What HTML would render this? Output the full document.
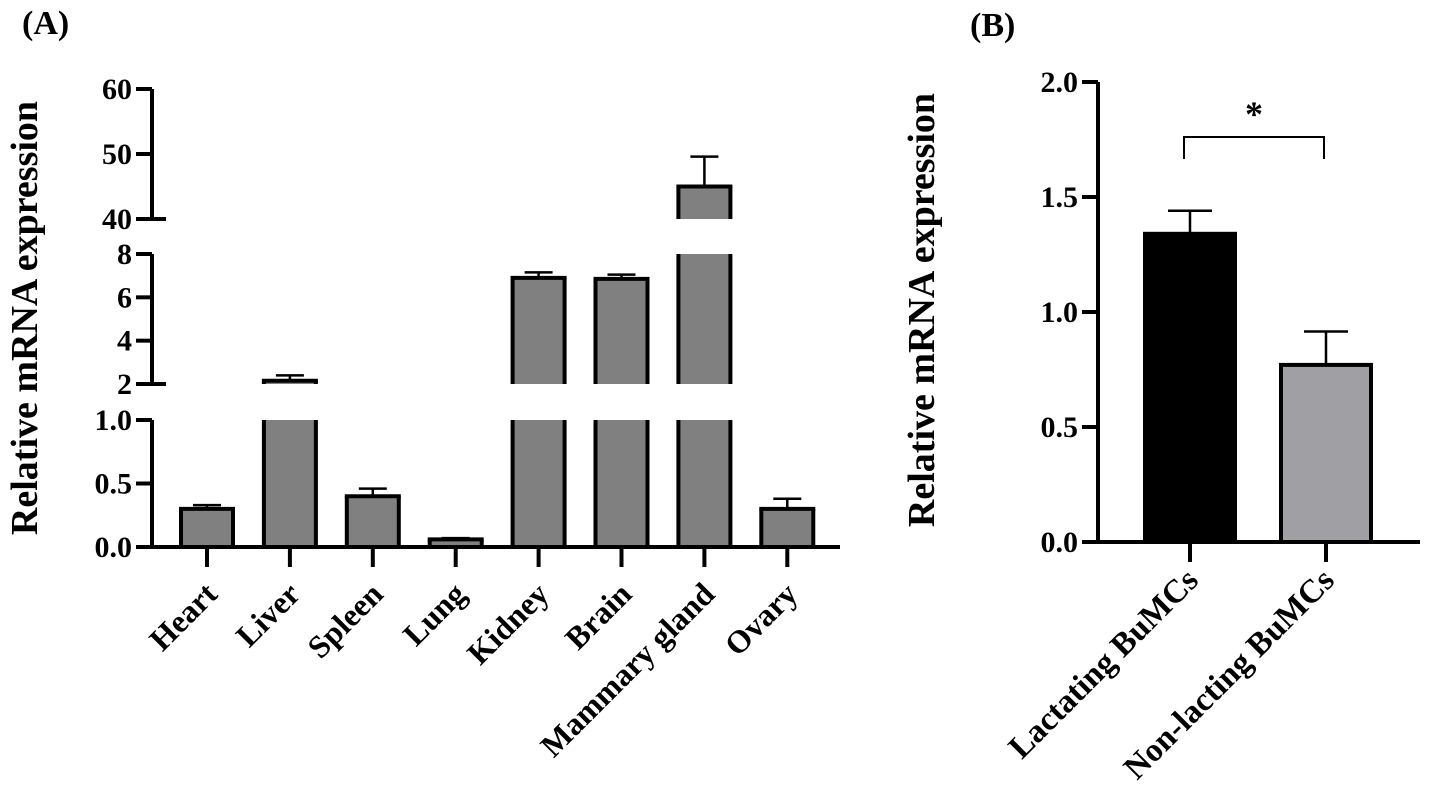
<!DOCTYPE html>
<html><head><meta charset="utf-8"><style>
html,body{margin:0;padding:0;background:#fff;width:1430px;height:796px;overflow:hidden}
svg{display:block;font-family:"Liberation Serif",serif;font-weight:bold}
</style></head><body>
<svg id="fig" width="1430" height="796" viewBox="0 0 1430 796">
<text x="22" y="34" font-size="34">(A)</text>
<text x="970" y="36" font-size="34">(B)</text>
<text transform="translate(37,318) rotate(-90)" text-anchor="middle" font-size="38">Relative mRNA expression</text>
<text transform="translate(934,310) rotate(-90)" text-anchor="middle" font-size="38">Relative mRNA expression</text>
<g id="ga"></g><g id="gb"></g>
</svg>
<script>
const tissues=["Heart","Liver","Spleen","Lung","Kidney","Brain","Mammary gland","Ovary"];
const tissueMeans=[0.30,2.15,0.40,0.06,6.9,6.85,45,0.30];
const tissueErrs=[0.03,0.25,0.06,0.01,0.25,0.2,4.6,0.08];
const segLowTicks=[0,0.5,1.0];
const segMidTicks=[2,4,6,8];
const segTopTicks=[40,50,60];
const groups=["Lactating BuMCs","Non-lacting BuMCs"];
const groupMeans=[1.34,0.77];
const groupErrs=[0.10,0.145];
const bTicks=[0,0.5,1.0,1.5,2.0];

const NS="http://www.w3.org/2000/svg";
function mk(p,tag,attrs){const e=document.createElementNS(NS,tag);for(const k in attrs)e.setAttribute(k,attrs[k]);p.appendChild(e);return e;}
const ga=document.getElementById('ga'),gb=document.getElementById('gb');

const segs=[
 {lo:0,hi:1,y0:547,y1:420,ticks:segLowTicks,fmt:v=>v.toFixed(1)},
 {lo:2,hi:8,y0:384,y1:254,ticks:segMidTicks,fmt:v=>String(v)},
 {lo:40,hi:60,y0:219,y1:89,ticks:segTopTicks,fmt:v=>String(v)}];
const ax=152;
function segY(s,v){return s.y0+(v-s.lo)/(s.hi-s.lo)*(s.y1-s.y0);}
const xA=i=>207+i*82.9;
const bw=52;
segs.forEach((s,si)=>{
 let l=mk(ga,'line',{x1:ax,x2:ax,y1:s.y0,y2:s.y1,stroke:'#000','stroke-width':4});
 
 
 s.ticks.forEach(v=>{const y=segY(s,v);
  let t=mk(ga,'line',{x1:ax-16,x2:ax+(v===s.lo&&si>0?14:0),y1:y,y2:y,stroke:'#000','stroke-width':4});
  
  
  let tx=mk(ga,'text',{x:ax-20,y:y+10,'text-anchor':'end','font-size':30});tx.textContent=s.fmt(v);
  
  
 });
});
tissueMeans.forEach((m,i)=>{
 const cx=xA(i);
 segs.forEach(s=>{
  if(m<=s.lo)return;
  const top=Math.min(m,s.hi);const yt=segY(s,top),yb=s.y0;
  const r=mk(ga,'rect',{x:cx-bw/2,y:yt,width:bw,height:yb-yt,fill:'#808080'});
  
  
  mk(ga,'line',{x1:cx-bw/2,x2:cx-bw/2,y1:yt,y2:yb,stroke:'#000','stroke-width':4});
  mk(ga,'line',{x1:cx+bw/2,x2:cx+bw/2,y1:yt,y2:yb,stroke:'#000','stroke-width':4});
  if(m<=s.hi){mk(ga,'line',{x1:cx-bw/2-2,x2:cx+bw/2+2,y1:yt,y2:yt,stroke:'#000','stroke-width':4});
   const ye=segY(s,m+tissueErrs[i]);
   const e=mk(ga,'path',{d:`M${cx} ${yt}V${ye}M${cx-14} ${ye}H${cx+14}`,stroke:'#000','stroke-width':2.5,fill:'none'});
   
   
  }
 });
 const tk=mk(ga,'line',{x1:cx,x2:cx,y1:547,y2:567,stroke:'#000','stroke-width':4});
 
 
 const lb=mk(ga,'text',{transform:`translate(${cx+12},${596}) rotate(-45)`,'text-anchor':'end','font-size':32});
 lb.textContent=tissues[i];
 
 
});
let xa=mk(ga,'line',{x1:ax-16,x2:840,y1:547,y2:547,stroke:'#000','stroke-width':4});



const bx=1098,by0=542,bpx=230;
const yB=v=>by0-v*bpx;
let yl=mk(gb,'line',{x1:bx,x2:bx,y1:yB(2),y2:by0,stroke:'#000','stroke-width':4});


bTicks.forEach(v=>{const y=yB(v);
 let t=mk(gb,'line',{x1:bx-16,x2:bx,y1:y,y2:y,stroke:'#000','stroke-width':4});
 
 
 let tx=mk(gb,'text',{x:bx-20,y:y+10,'text-anchor':'end','font-size':30});tx.textContent=v.toFixed(1);
 
 
});
const xB=i=>1190+i*136, bbw=90, fills=['#000','#a0a0a4'];
groupMeans.forEach((m,i)=>{
 const cx=xB(i),yt=yB(m);
 const r=mk(gb,'rect',{x:cx-bbw/2,y:yt,width:bbw,height:by0-yt,fill:fills[i],stroke:'#000','stroke-width':4});
 
 
 const ye=yB(m+groupErrs[i]);
 const e=mk(gb,'path',{d:`M${cx} ${yt}V${ye}M${cx-22} ${ye}H${cx+22}`,stroke:'#000','stroke-width':2.5,fill:'none'});
 
 
 const tk=mk(gb,'line',{x1:cx,x2:cx,y1:by0,y2:by0+20,stroke:'#000','stroke-width':4});
 
 
 const lb=mk(gb,'text',{transform:`translate(${cx+10},${582}) rotate(-45)`,'text-anchor':'end','font-size':33});
 lb.textContent=groups[i];
 
 
});
let xb=mk(gb,'line',{x1:bx-16,x2:1420,y1:by0,y2:by0,stroke:'#000','stroke-width':4});


let br=mk(gb,'path',{d:`M${xB(0)-6} 159V137H${xB(1)-2}V159`,stroke:'#000','stroke-width':2,fill:'none'});


let st=mk(gb,'text',{x:1254,y:126,'text-anchor':'middle','font-size':36});st.textContent='*';


</script>
</body></html>
